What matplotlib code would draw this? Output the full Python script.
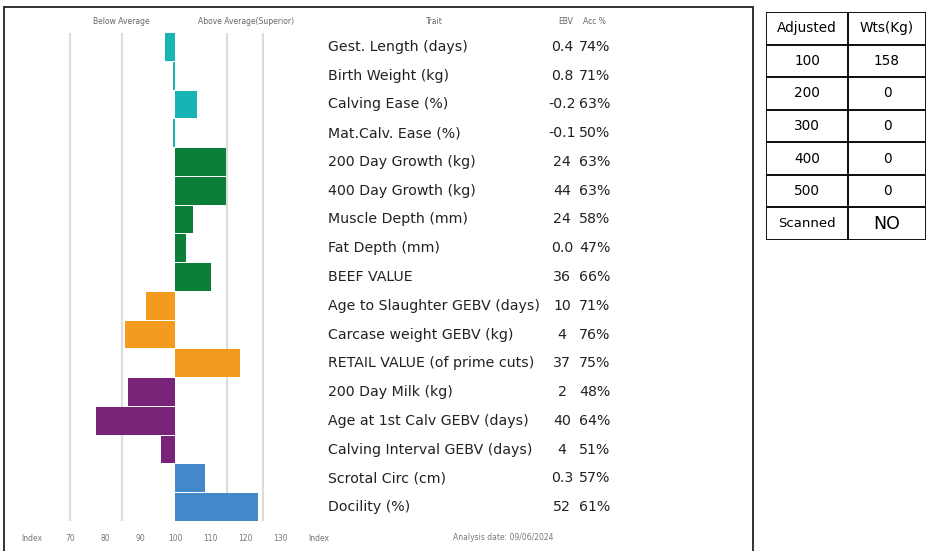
import matplotlib.pyplot as plt
import matplotlib.transforms as mtransforms
from matplotlib.patches import Rectangle

# trait data
traits = ["Gest. Length (days)", "Birth Weight (kg)", "Calving Ease (%)",
          "Mat.Calv. Ease (%)", "200 Day Growth (kg)", "400 Day Growth (kg)",
          "Muscle Depth (mm)", "Fat Depth (mm)", "BEEF VALUE",
          "Age to Slaughter GEBV (days)", "Carcase weight GEBV (kg)",
          "RETAIL VALUE (of prime cuts)", "200 Day Milk (kg)",
          "Age at 1st Calv GEBV (days)", "Calving Interval GEBV (days)",
          "Scrotal Circ (cm)", "Docility (%)"]
ebv = ["0.4", "0.8", "-0.2", "-0.1", "24", "44", "24", "0.0", "36",
       "10", "4", "37", "2", "40", "4", "0.3", "52"]
acc = ["74%", "71%", "63%", "50%", "63%", "63%", "58%", "47%", "66%",
       "71%", "76%", "75%", "48%", "64%", "51%", "57%", "61%"]
index_vals = [97.2, 99.4, 106.3, 99.5, 114.6, 114.6, 105.1, 103.1, 110.3,
              91.7, 85.7, 118.6, 86.6, 77.4, 96.0, 108.6, 123.7]
groups = ["teal"] * 4 + ["green"] * 5 + ["orange"] * 3 + ["purple"] * 3 + ["blue"] * 2

colors = {"teal": "#17b4b4", "green": "#0b7f3a", "orange": "#f39a1f",
          "purple": "#7a2479", "blue": "#4389c9"}

tick_vals = [59, 70, 80, 90, 100, 110, 120, 130, 141]
tick_labels = ["Index", "70", "80", "90", "100", "110", "120", "130", "Index"]
grid_vals = [70, 85, 115, 125]

# weights table
adj_days = ["100", "200", "300", "400", "500"]
adj_wts = ["158", "0", "0", "0", "0"]
scanned = "NO"

W, H = 928, 551
fig = plt.figure(figsize=(W / 100, H / 100), dpi=100)

# bar axes: 100 index at x=175px, 3.5 px per index unit
xmin, xmax = 55, 145
left_px = 175 - (100 - xmin) * 3.5
width_px = (xmax - xmin) * 3.5
top_px, bot_px = 32.6, 521.4
ax = fig.add_axes([left_px / W, 1 - bot_px / H, width_px / W, (bot_px - top_px) / H])
n = len(traits)
ax.set_xlim(xmin, xmax)
ax.set_ylim(n - 0.5, -0.5)

for g in grid_vals:
    ax.axvline(g, color="#dcdcdc", lw=1.6, zorder=0)

for i, v in enumerate(index_vals):
    ax.barh(i, v - 100, left=100, height=0.96, color=colors[groups[i]],
            edgecolor="none", zorder=2)

for s in ax.spines.values():
    s.set_visible(False)
ax.set_yticks([])
ax.set_xticks(tick_vals)
ax.set_xticklabels(tick_labels, fontsize=5.5, color="#777777")
ax.tick_params(axis="x", length=0, pad=9)

# text columns
trans = mtransforms.blended_transform_factory(fig.transFigure, ax.transData)
for i in range(n):
    ax.text(328 / W, i, traits[i], transform=trans, fontsize=10.2,
            va="center", ha="left", color="#222222", clip_on=False)
    ax.text(562 / W, i, ebv[i], transform=trans, fontsize=10.2,
            va="center", ha="center", color="#222222", clip_on=False)
    ax.text(595 / W, i, acc[i], transform=trans, fontsize=10.2,
            va="center", ha="center", color="#222222", clip_on=False)

# headers
hy = 1 - 21 / H
fig.text(121 / W, hy, "Below Average", fontsize=5.5, color="#666666", ha="center", va="center")
fig.text(246 / W, hy, "Above Average(Superior)", fontsize=5.5, color="#666666", ha="center", va="center")
fig.text(434 / W, hy, "Trait", fontsize=5.5, color="#666666", ha="center", va="center")
fig.text(566 / W, hy, "EBV", fontsize=5.5, color="#666666", ha="center", va="center")
fig.text(594 / W, hy, "Acc %", fontsize=5.5, color="#666666", ha="center", va="center")
fig.text(503 / W, 1 - 538 / H, "Analysis date: 09/06/2024", fontsize=5.5,
         color="#777777", ha="center", va="center")

# outer frame
fig.add_artist(Rectangle((4 / W, -0.01), 749 / W, 1 - 7 / H + 0.01,
                         transform=fig.transFigure, fill=False, ec="#222222", lw=1.3))

# weights table
tax = fig.add_axes([766 / W, 1 - 240 / H, 160 / W, 228 / H])
rows = [("Adjusted", "Wts(Kg)")] + list(zip(adj_days, adj_wts)) + [("Scanned", scanned)]
tax.set_xlim(0, 160)
tax.set_ylim(len(rows), 0)
tax.axis("off")
for r, (a, b) in enumerate(rows):
    tax.add_patch(Rectangle((0, r), 82, 1, fill=False, ec="#111111", lw=1.4))
    tax.add_patch(Rectangle((82, r), 78, 1, fill=False, ec="#111111", lw=1.4))
    big = r == len(rows) - 1
    tax.text(41, r + 0.5, a, ha="center", va="center", fontsize=9.5 if big else 9.8)
    tax.text(121, r + 0.5, b, ha="center", va="center", fontsize=12.5 if big else 9.8)

fig.savefig("out.png", dpi=100)
